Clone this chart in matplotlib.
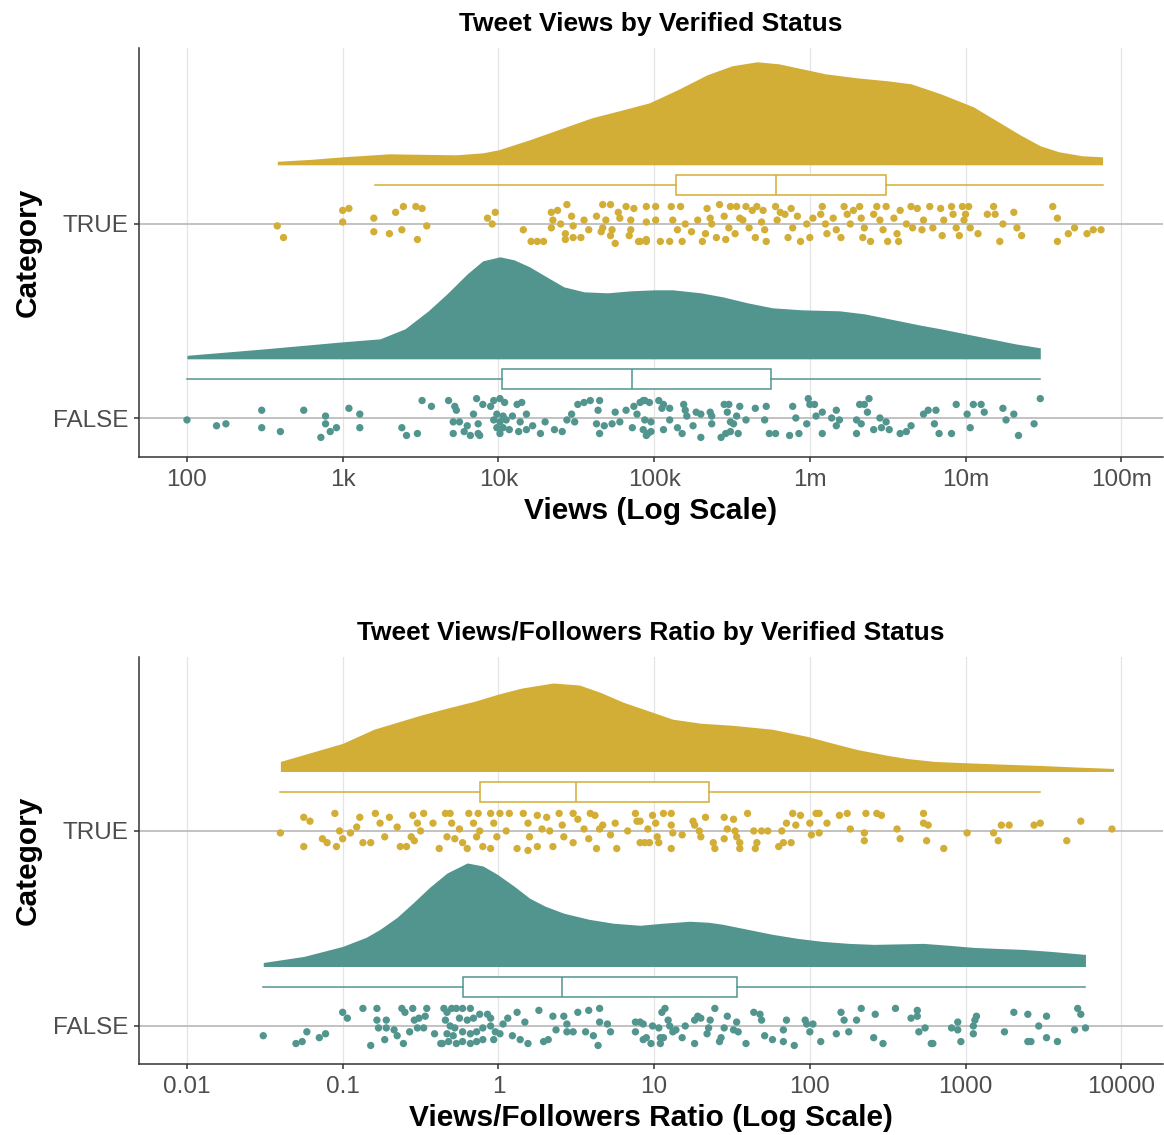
import numpy as np
import matplotlib
matplotlib.use("Agg")
import matplotlib.pyplot as plt
from matplotlib.ticker import NullLocator, FixedLocator, FixedFormatter

plt.rcParams['font.family'] = ['Liberation Sans', 'DejaVu Sans']

# ---------------- DATA ----------------
categories = ['FALSE', 'TRUE']
gold = '#D3AE36'
teal = '#52958F'

# ---- Panel 1 : Views (log10) ----
views_xticks_log = [2, 3, 4, 5, 6, 7, 8]
views_xtick_labels = ['100', '1k', '10k', '100k', '1m', '10m', '100m']

views_true_log = [
    2.58, 2.62, 3.00, 3.04, 3.00, 3.20, 3.20, 3.30, 3.34, 3.39, 3.38, 3.47, 3.51, 3.48, 3.54, 3.93, 3.98, 3.96,
    4.16, 4.21, 4.25, 4.29, 4.34, 4.38, 4.44, 4.35, 4.34, 4.40, 4.47, 4.48, 4.55, 4.43, 4.43, 4.48, 4.53, 4.58,
    4.63, 4.67, 4.72, 4.69, 4.67, 4.66, 4.73, 4.72, 4.77, 4.78, 4.82, 4.87, 4.85, 4.85, 4.84, 4.90, 4.75, 4.95,
    4.95, 4.95,
    4.91, 4.95, 5.01, 5.01, 5.04, 5.11, 5.12, 5.10, 5.17, 5.18, 5.15, 5.20, 5.24, 5.28, 5.31, 5.34, 5.36, 5.33,
    5.42, 5.37, 5.40, 5.45, 5.49, 5.48, 5.46, 5.53, 5.55, 5.52, 5.57, 5.59, 5.63, 5.61, 5.65, 5.66, 5.70, 5.69,
    5.72, 5.71, 5.78, 5.79, 5.81, 5.84, 5.88, 5.89, 5.92, 5.86, 5.94, 5.98, 6.02, 6.00, 6.08, 6.07, 6.10, 6.11,
    6.15, 6.17, 6.20, 6.22, 6.24, 6.28, 6.26, 6.32, 6.33, 6.35, 6.39, 6.34, 6.43, 6.45, 6.41, 6.49, 6.47, 6.50,
    6.54, 6.56, 6.57, 6.58, 6.62, 6.65, 6.69, 6.66, 6.73, 6.72, 6.77, 6.79, 6.84, 6.85, 6.86, 6.91, 6.92, 6.94,
    6.98, 7.02, 6.99, 7.00, 7.03, 6.96, 7.08, 7.14, 7.18, 7.19, 7.24, 7.22, 7.31, 7.36, 7.33, 7.56, 7.59, 7.59,
    7.66, 7.70, 7.78, 7.82, 7.87]
views_true_jit = [
    -1, -7, 7, 8, 1, 3, -4, -5, 6, 9, -3, 9, 8, -8, -1, 3, 6, 0, -3, -9, -9, -9, 6, 7, 10, 2, -2, 0, 4, -1,
    2, -5, -8, -7, -7, -3, 4, 10, 10, 2, -2, -4, -3, -6, 6, 3, 9, 8, 2, -3, -6, -9, -10, 9, 1, -9,
    -9, -8, 9, 2, -9, 9, 2, -9, 9, -9, -3, 0, -4, 2, -9, 8, 3, -5, 10, 0, -7, 4, 9, -2, -8, 9, 3, -5,
    2, 9, 7, -2, -7, 9, 7, 1, -9, -3, 9, 2, 6, 5, 8, -2, 4, -7, -9, 0, 3, -7, 9, 5, 0, -5, 3, -3, -7, 9,
    5, 7, 0, 9, 3, -2, -9, -7, 9, 2, 5, 9, -3, -9, 3, -5, -9, 7, 0, 9, 8, -2, 2, -3, 9, -2, 8, -6, 2, 9,
    5, -2, 9, 9, 2, 5, -2, -6, -5, 5, 9, 5, 0, -9, 6, -6, -2, 9, 3, -9, -5, -2, -5, -3, -3]

views_false_log = [
    2.00, 2.19, 2.25, 2.48, 2.48, 2.60, 2.75, 2.89, 2.89, 2.86, 2.92, 2.96, 3.04, 3.11, 3.11, 3.38, 3.41, 3.48,
    3.51, 3.57, 3.68, 3.72, 3.73, 3.71, 3.75, 3.80, 3.84, 3.86, 3.90, 3.87, 3.71, 3.78, 3.82, 3.87, 3.88, 3.95,
    3.97, 4.01, 4.04, 3.99, 4.03, 3.97, 4.01, 4.05, 3.99, 4.03, 4.07, 4.01, 4.09, 4.12, 4.15, 4.18, 4.14, 4.18,
    4.13, 4.22, 4.27, 4.30, 4.36, 4.41, 4.44, 4.47, 4.49, 4.51, 4.55, 4.59, 4.65, 4.64, 4.63, 4.68, 4.65, 4.73,
    4.75, 4.78, 4.82, 4.87, 4.89, 4.91, 4.94, 4.86, 4.93, 4.96,
    4.93, 4.97, 4.94, 4.98, 4.95, 4.98, 5.03, 5.06, 5.05, 5.10, 5.06, 5.10, 5.15, 5.18, 5.19, 5.20, 5.21, 5.25,
    5.27, 5.30, 5.30, 5.36, 5.37, 5.37, 5.43, 5.45, 5.48, 5.47, 5.46, 5.49, 5.51, 5.53, 5.49, 5.54, 5.55, 5.59,
    5.65, 5.72, 5.71, 5.74, 5.78, 5.87, 5.89, 5.91, 5.93, 5.98, 5.99, 6.00, 6.03, 6.04, 6.08, 6.08, 6.14, 6.17,
    6.17, 6.19, 6.30, 6.30, 6.32, 6.35, 6.38, 6.37, 6.33, 6.41, 6.45, 6.49, 6.46, 6.51, 6.58, 6.62, 6.65, 6.73,
    6.76, 6.81, 6.80, 6.83, 6.91, 6.94, 7.01, 7.03, 7.05, 7.10, 7.12, 7.24, 7.26, 7.31, 7.34, 7.44, 7.48]
views_false_jit = [
    -1, -4, -3, 4, -5, -7, 4, 1, -3, -10, -7, -5, 5, 2, -5, -5, -9, -8, 9, 6, 9, 6, 4, -2, -2, -4, 2, 10, 7, -3,
    -8, -7, -9, -8, -9, 6, 9, 10, 8, 2, 1, -1, -2, -1, -5, -5, -6, -8, 1, 7, 8, 2, -2, -6, -7, -4, -8, -2, -6, -7,
    -1, 2, -2, 7, 8, 9, 9, 4, -3, -4, -8, -3, 3, -2, 4, 6, 2, 8, 9, -5, -6, -8,
    9, 8, -1, -2, -9, -7, 9, 7, 5, 5, -6, -1, -5, -8, 7, 4, 1, -4, 3, 2, -10, 3, -3, 1, -10, 7, 7, 3, -8, -2,
    -3, 1, -7, -8, 6, -1, 5, 6, -1, -8, -8, -9, 6, 0, -8, -3, 10, 7, 7, 1, 3, -8, 0, 4, -4, -1, -1, -8, 7, 7,
    10, 3, -3, -6, 0, -2, -5, -6, -8, -7, -4, 2, 4, 4, -3, -8, -8, 7, 2, -5, 7, 7, 3, 5, -1, 2, -9, -3, 10]

# density profiles (log10 position, relative density)
views_true_dens_x = [2.58, 2.80, 3.00, 3.30, 3.50, 3.73, 3.90, 4.00, 4.20, 4.40, 4.60, 4.80, 4.97, 5.15, 5.34,
                     5.50, 5.66, 5.80, 5.95, 6.10, 6.30, 6.50, 6.65, 6.84, 7.05, 7.20, 7.35, 7.48, 7.60, 7.75, 7.88]
views_true_dens_y = [3.5, 5.5, 8, 11, 10.5, 10, 12, 15, 25, 36, 47, 55, 62, 75, 90,
                     99, 103, 101, 96, 91, 87, 84, 81, 71, 58, 44, 30, 19, 13, 9, 8]
views_false_dens_x = [2.00, 2.50, 3.00, 3.24, 3.40, 3.55, 3.67, 3.80, 3.90, 4.01, 4.10, 4.20, 4.32, 4.42, 4.55,
                      4.70, 4.85, 5.00, 5.12, 5.30, 5.44, 5.60, 5.76, 5.95, 6.19, 6.35, 6.51, 6.70, 6.84, 7.00,
                      7.16, 7.32, 7.48]
views_false_dens_y = [3.5, 10, 17, 20, 30, 48, 65, 85, 98, 102, 99, 92, 81, 72, 67,
                      66, 68, 69, 69, 66, 62, 56, 51, 49, 48, 45, 40, 34, 30, 25,
                      20, 15, 11]

# box statistics (log10): whislo, q1, med, q3, whishi
views_true_box = [3.21, 5.14, 5.78, 6.49, 7.88]
views_false_box = [2.00, 4.02, 4.86, 5.75, 7.48]

# ---- Panel 2 : Views/Followers ratio (log10) ----
ratio_xticks_log = [-2, -1, 0, 1, 2, 3, 4]
ratio_xtick_labels = ['0.01', '0.1', '1', '10', '100', '1000', '10000']

ratio_true_log = [
    -1.40, -1.25, -1.25, -1.21, -1.13, -1.10, -1.05, -1.04, -1.02, -1.00, -0.95, -0.91, -0.89, -0.87, -0.82,
    -0.79, -0.76, -0.73, -0.70, -0.65, -0.63, -0.59, -0.55, -0.52, -0.56, -0.54, -0.50, -0.48, -0.42, -0.38,
    -0.34, -0.31, -0.30, -0.33, -0.28, -0.25, -0.23, -0.20, -0.19, -0.16, -0.13, -0.14, -0.12, -0.10, -0.05,
    -0.03, -0.01, -0.05, 0.01, 0.05, 0.07, 0.12, 0.16, 0.19, 0.20, 0.19, 0.25, 0.28, 0.25, 0.31, 0.33, 0.35,
    0.39, 0.41, 0.42, 0.48, 0.48, 0.51, 0.55, 0.59, 0.62, 0.58, 0.63, 0.65, 0.67, 0.72, 0.76, 0.75, 0.83,
    0.88, 0.89, 0.91, 0.96,
    0.91, 0.94, 0.99, 1.01, 0.97, 1.02, 1.03, 1.06, 1.11, 1.11, 1.11, 1.12, 1.18, 1.25, 1.26, 1.29, 1.30, 1.33,
    1.38, 1.39, 1.45, 1.47, 1.45, 1.51, 1.52, 1.53, 1.55, 1.55, 1.60, 1.64, 1.66, 1.65, 1.69, 1.73, 1.80, 1.82,
    1.83, 1.85, 1.88, 1.89, 1.91, 1.94, 2.00, 2.01, 2.04, 2.06, 2.06, 2.11, 2.19, 2.24, 2.26, 2.35, 2.35, 2.36,
    2.43, 2.46, 2.56, 2.58, 2.73, 2.73, 2.75, 2.76, 2.86, 3.01, 3.18, 3.21, 3.23, 3.28, 3.44, 3.48, 3.65, 3.74,
    3.94]
ratio_true_jit = [
    -1, -8, 7, 5, -4, -6, 9, -8, 0, -4, -1, 2, 7, -6, -6, 9, 4, -3, 7, 2, -8, -8, 8, 4, -3, -5, 0, 9, 4, -9,
    9, 9, 4, -3, -4, 1, -6, -9, 9, 4, 9, -3, 0, -8, 9, 4, -3, -9, 9, 0, 9, -9, 9, 4, -3, -10, 8, 1, -8, 7,
    0, -8, 9, 3, -3, -6, 9, 6, 1, 9, 8, -4, -9, 1, 3, -2, -9, 4, 0, 9, 5, -6, 1,
    5, -6, 8, 4, -6, -3, -6, 9, 9, 3, -9, -1, -2, 5, 3, 0, -3, 7, -6, -9, 7, 1, -4, 6, 0, -3, -6, -9, 9, 0,
    -6, -9, 0, 0, -8, 0, -6, 4, -6, 9, 3, 8, 4, -2, 9, 9, -1, 4, 8, 9, 1, -1, -5, 9, 9, 8, 1, -4, 9, 4,
    -5, 3, -9, -1, -1, -5, 3, 3, 3, 4, -5, 5, 1]

ratio_false_log = [
    -1.51, -1.30, -1.26, -1.23, -1.15, -1.11, -1.00, -0.97, -0.87, -0.82, -0.78, -0.78, -0.72, -0.77, -0.72,
    -0.73, -0.67, -0.65, -0.61, -0.62, -0.60, -0.55, -0.54, -0.57, -0.51, -0.47, -0.46, -0.52, -0.48, -0.41,
    -0.36, -0.35, -0.33, -0.30, -0.27, -0.23, -0.18, -0.34, -0.31, -0.28, -0.25, -0.20, -0.16, -0.12, -0.07,
    -0.05, -0.33, -0.29, -0.23, -0.18, -0.14, -0.10, -0.05, -0.02, -0.37, -0.32, -0.27, -0.23, -0.18, -0.14,
    -0.10, -0.03, 0.01, 0.03, 0.06, 0.12, 0.09, 0.14, 0.19, 0.17, 0.26, 0.29, 0.32, 0.35, 0.37, 0.42, 0.44,
    0.44, 0.48, 0.51, 0.56, 0.58, 0.61, 0.64, 0.65, 0.65, 0.70, 0.72, 0.88, 0.88, 0.91, 0.95,
    0.93, 0.93, 0.98, 0.99, 1.03, 1.04, 1.04, 1.05, 1.07, 1.06, 1.09, 1.10, 1.12, 1.14, 1.18, 1.20, 1.26, 1.26,
    1.28, 1.30, 1.34, 1.35, 1.36, 1.39, 1.42, 1.43, 1.45, 1.47, 1.51, 1.53, 1.54, 1.59, 1.64, 1.68, 1.69, 1.71,
    1.76, 1.83, 1.83, 1.85, 1.90, 1.97, 1.98, 2.00, 2.02, 2.07, 2.17, 2.20, 2.22, 2.25, 2.30, 2.33, 2.41, 2.42,
    2.47, 2.55, 2.65, 2.69, 2.69, 2.70, 2.74, 2.78, 2.79, 2.91, 2.95, 2.95, 2.97, 3.05, 3.05, 3.06, 3.07, 3.25,
    3.31, 3.40, 3.40, 3.42, 3.47, 3.52, 3.52, 3.59, 3.70, 3.72, 3.74, 3.77]
ratio_false_jit = [
    -5, -9, -8, -3, -6, -4, 7, 4, 9, -10, 9, 3, 3, -1, -1, -7, -2, -5, -9, 9, 7, 9, 3, -3, 4, 5, 9, -1, -1, -4,
    -9, 9, 7, 9, 9, 9, 9, 3, 0, -1, 4, 3, 4, 6, 6, 4, -4, -5, -3, -4, -3, -1, 0, -3, -9, -8, -9, -8, -9, -8,
    -7, -7, -4, 1, 4, 7, -5, -7, -9, 2, 8, -8, -7, 5, -2, 5, 1, -3, -3, 7, -3, 8, -5, -10, 9, 2, 1, -3, 2, -3,
    2, -6,
    1, -7, -9, 0, -1, -6, -9, 7, 9, -6, 3, 0, -3, -2, -6, 0, -9, 3, 5, 4, -4, -1, 3, 9, -8, -6, -1, 5, -2, 2,
    -3, -9, 7, 6, 3, -5, -7, -2, -8, 3, -10, 3, 1, -3, 1, -8, -4, 7, 3, -3, 3, 9, -6, 6, -9, 9, 4, 8, 5, -3,
    -1, -9, -9, -1, 2, -2, -8, 0, -4, 3, 5, -3, 7, 6, -8, -8, 0, 5, -6, -8, -2, 9, 6, -1]

ratio_true_dens_x = [-1.40, -1.20, -1.00, -0.80, -0.65, -0.50, -0.33, -0.15, 0.00, 0.15, 0.35, 0.52, 0.65, 0.80,
                     0.97, 1.12, 1.30, 1.50, 1.76, 1.98, 2.15, 2.30, 2.50, 2.62, 2.80, 2.95, 3.20, 3.48, 3.70, 3.95]
ratio_true_dens_y = [10, 19, 28, 42, 49, 56, 63, 70, 77, 83, 88, 86, 79, 69,
                     60, 52, 48, 46, 42, 35, 28, 22, 16, 13, 10, 9, 7.5, 6, 4.5, 3]
ratio_false_dens_x = [-1.51, -1.25, -1.00, -0.85, -0.76, -0.65, -0.55, -0.44, -0.33, -0.20, -0.10, -0.01, 0.10,
                      0.20, 0.30, 0.42, 0.58, 0.74, 0.91, 1.05, 1.23, 1.35, 1.44, 1.60, 1.76, 1.92, 2.08, 2.25,
                      2.41, 2.57, 2.73, 2.90, 3.05, 3.20, 3.37, 3.55, 3.77]
ratio_false_dens_y = [4, 10, 20, 29, 37, 49, 63, 79, 93, 103, 100, 92, 80,
                      68, 60, 53, 47, 43, 41, 43, 45, 44, 42, 37, 32, 28, 25, 23,
                      22, 22.5, 23, 21, 19, 18, 17, 15, 12]

ratio_true_box = [-1.40, -0.12, 0.50, 1.35, 3.48]
ratio_false_box = [-1.51, -0.23, 0.41, 1.53, 3.77]

# ---------------- STYLE ----------------
W, H = 1164, 1135
DENS_OFFSET = 0.305      # baseline of half-density above category line
DENS_PX = 194.0          # density units are pixel-heights; convert to category units
BOX_OFFSET = 0.20
BOX_WIDTH = 0.10
JIT_UNIT = 0.01
AXIS_COL = '#333333'
TICK_LAB_COL = '#4D4D4D'


def raincloud(ax, groups, xticks_log, xtick_labels, xlim_log, ylim, title, xlabel):
    ax.set_xscale('log')
    for xt in xticks_log:
        ax.axvline(10.0 ** xt, color='#E4E4E4', lw=0.9, zorder=0)
    for pos in (1, 2):
        ax.axhline(pos, color='#BDBDBD', lw=1.3, zorder=1)
    for pos, (pts_log, jit, dx, dy, box, col) in groups.items():
        dx = np.asarray(dx)
        dy = np.asarray(dy) / DENS_PX
        base = pos + DENS_OFFSET
        ax.fill_between(10.0 ** dx, base, base + dy, color=col, lw=0, zorder=2)
        stats = [dict(whislo=10 ** box[0], q1=10 ** box[1], med=10 ** box[2],
                      q3=10 ** box[3], whishi=10 ** box[4])]
        ax.bxp(stats, positions=[pos + BOX_OFFSET], widths=BOX_WIDTH, vert=False,
               showfliers=False, showcaps=False, patch_artist=True,
               boxprops=dict(facecolor='white', edgecolor=col, lw=1.1),
               medianprops=dict(color=col, lw=1.1),
               whiskerprops=dict(color=col, lw=1.1), manage_ticks=False, zorder=3)
        ax.scatter(10.0 ** np.asarray(pts_log), pos + np.asarray(jit) * JIT_UNIT,
                   s=28, color=col, edgecolors='none', zorder=4)
    ax.set_xlim(10.0 ** xlim_log[0], 10.0 ** xlim_log[1])
    ax.set_ylim(*ylim)
    ax.xaxis.set_major_locator(FixedLocator([10.0 ** v for v in xticks_log]))
    ax.xaxis.set_major_formatter(FixedFormatter(xtick_labels))
    ax.xaxis.set_minor_locator(NullLocator())
    ax.set_yticks([1, 2])
    ax.set_yticklabels(categories)
    for s in ('top', 'right'):
        ax.spines[s].set_visible(False)
    for s in ('left', 'bottom'):
        ax.spines[s].set_color(AXIS_COL)
        ax.spines[s].set_linewidth(1.1)
    ax.tick_params(axis='both', length=3.8, width=1.1, color=AXIS_COL,
                   labelsize=17.5, labelcolor=TICK_LAB_COL, pad=3)
    ax.tick_params(axis='x', pad=5)
    ax.tick_params(axis='y', pad=4)
    ax.set_title(title, fontsize=19, fontweight='bold', pad=12)
    ax.set_xlabel(xlabel, fontsize=21.5, fontweight='bold', labelpad=4)
    ax.set_ylabel('Category', fontsize=21.5, fontweight='bold', labelpad=8)


fig = plt.figure(figsize=(W / 100, H / 100), dpi=100)
ax1 = fig.add_axes([139 / W, 1 - 457 / H, (1163 - 139) / W, (457 - 48) / H])
ax2 = fig.add_axes([139 / W, 1 - 1064 / H, (1163 - 139) / W, (1064 - 657) / H])

raincloud(ax1,
          {2: (views_true_log, views_true_jit, views_true_dens_x, views_true_dens_y, views_true_box, gold),
           1: (views_false_log, views_false_jit, views_false_dens_x, views_false_dens_y, views_false_box, teal)},
          views_xticks_log, views_xtick_labels, (1.692, 8.268), (0.799, 2.907),
          'Tweet Views by Verified Status', 'Views (Log Scale)')

raincloud(ax2,
          {2: (ratio_true_log, ratio_true_jit, ratio_true_dens_x, ratio_true_dens_y, ratio_true_box, gold),
           1: (ratio_false_log, ratio_false_jit, ratio_false_dens_x, ratio_false_dens_y, ratio_false_box, teal)},
          ratio_xticks_log, ratio_xtick_labels, (-2.308, 4.268), (0.805, 2.892),
          'Tweet Views/Followers Ratio by Verified Status', 'Views/Followers Ratio (Log Scale)')

fig.savefig('out.png', dpi=100)
